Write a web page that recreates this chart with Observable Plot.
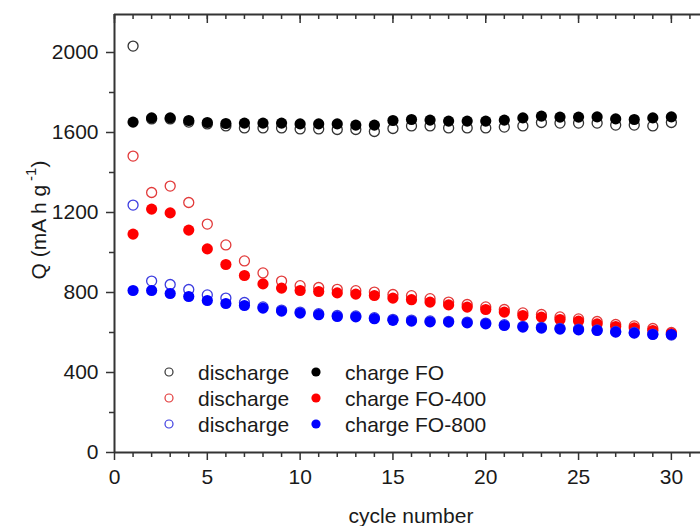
<!DOCTYPE html>
<html>
<head>
<meta charset="utf-8">
<script src="https://cdn.jsdelivr.net/npm/d3@7"></script>
<script src="https://cdn.jsdelivr.net/npm/@observablehq/plot@0.6"></script>
<style>
  html, body { margin: 0; padding: 0; background: #fff; overflow: hidden; }
  #wrap { position: relative; width: 700px; height: 526px; font-family: "Liberation Sans", Arial, sans-serif; }
  #wrap svg.overlay { position: absolute; left: 0; top: 0; pointer-events: none; }
</style>
</head>
<body>
<div id="wrap"></div>
<script>
// ---- data ----
const cycles = d3.range(1, 31);
const foCharge     = [1652,1673,1673,1660,1650,1645,1647,1647,1647,1643,1643,1643,1637,1637,1660,1665,1662,1657,1657,1657,1662,1673,1682,1677,1677,1678,1668,1665,1673,1678];
const foDischarge  = [2032,1668,1668,1652,1643,1633,1623,1623,1623,1618,1618,1615,1615,1605,1620,1633,1633,1623,1623,1623,1627,1633,1650,1647,1647,1647,1637,1637,1633,1650];
const fo400Charge    = [1092,1217,1198,1112,1018,940,885,843,822,810,805,798,792,785,772,764,752,738,727,715,702,685,677,665,657,643,630,623,610,595];
const fo400Discharge = [1482,1300,1332,1250,1142,1038,958,898,857,834,825,816,809,802,790,784,769,752,740,728,715,698,690,678,668,655,640,633,620,600];
const fo800Charge    = [810,810,795,780,760,745,735,722,707,697,689,680,678,669,661,657,653,652,648,643,635,627,622,617,613,610,602,597,590,590];
const fo800Discharge = [1237,857,840,815,788,772,750,728,712,702,694,685,683,674,666,662,658,656,652,647,639,631,626,621,617,613,605,600,592,587];

const seriesNames = ["FO", "FO-400", "FO-800"];
const openColors = ["#333333", "#e23a3a", "#3d3de0"];
const fillColors = ["#000000", "#ff0000", "#0000ff"];
const chargeSets = [foCharge, fo400Charge, fo800Charge];
const dischargeSets = [foDischarge, fo400Discharge, fo800Discharge];

const xMajor = d3.range(0, 31, 5);
const xMinor = d3.range(0, 33, 1);
const yMajor = d3.range(0, 2001, 400);
const yMinor = d3.range(200, 2001, 400);
const xLabel = "cycle number";

// ---- layout ----
const W = 700, H = 526;
const mL = 114, mT = 14, mB = 74, mR = -8;
const plotH = H - mT - mB;
const plotW = W - mL - mR;
const yTop = 2190;
const fmt = d => String(d);

const rows = [];
seriesNames.forEach((s, i) => {
  cycles.forEach((c, j) => {
    rows.push({series: s, idx: i, cycle: c, discharge: dischargeSets[i][j], charge: chargeSets[i][j]});
  });
});

const marks = [];
// frame lines
marks.push(Plot.ruleX([0], {stroke: "#333", strokeWidth: 2}));
marks.push(Plot.ruleY([0], {stroke: "#333", strokeWidth: 2}));
marks.push(Plot.ruleY([yTop], {stroke: "#333", strokeWidth: 2}));
marks.push(Plot.ruleX([32], {stroke: "#333", strokeWidth: 2}));

// bottom axis (outward)
marks.push(Plot.axisX({anchor: "bottom", ticks: xMajor, tickFormat: fmt, tickSize: 8, tickPadding: 9, fontSize: 21, label: null, stroke: "#333", strokeWidth: 1.5, fill: "#1a1a1a"}));
marks.push(Plot.tickX(xMinor.filter(d => d % 5 !== 0), {x: d => d, insetTop: plotH, insetBottom: -5, stroke: "#333", strokeWidth: 1.5}));
// top axis (inward)
marks.push(Plot.tickX(xMinor, {x: d => d, insetBottom: plotH - 5, stroke: "#333", strokeWidth: 1.5}));
marks.push(Plot.tickX(xMajor, {x: d => d, insetBottom: plotH - 9, stroke: "#333", strokeWidth: 1.5}));
// left axis (outward)
marks.push(Plot.axisY({anchor: "left", ticks: yMajor, tickFormat: fmt, tickSize: 8, tickPadding: 8, fontSize: 21, label: null, stroke: "#333", strokeWidth: 1.5, fill: "#1a1a1a"}));
marks.push(Plot.tickY(yMinor, {y: d => d, insetLeft: -5, insetRight: plotW, stroke: "#333", strokeWidth: 1.5}));
// right axis (inward)
marks.push(Plot.tickY(yMajor, {y: d => d, insetLeft: plotW - 8, stroke: "#333", strokeWidth: 1.5}));
marks.push(Plot.tickY(yMinor, {y: d => d, insetLeft: plotW - 5, stroke: "#333", strokeWidth: 1.5}));

// data
seriesNames.forEach((s, i) => {
  const data = rows.filter(r => r.idx === i);
  marks.push(Plot.dot(data, {x: "cycle", y: "discharge", r: 5, stroke: openColors[i], strokeWidth: 1.3, fill: "none"}));
  marks.push(Plot.dot(data, {x: "cycle", y: "charge", r: 5.6, fill: fillColors[i], stroke: "none"}));
});

const chart = Plot.plot({
  width: W, height: H,
  marginLeft: mL, marginRight: mR, marginTop: mT, marginBottom: mB,
  x: {domain: [0, 32], axis: null},
  y: {domain: [0, yTop], axis: null},
  style: {fontFamily: "'Liberation Sans', Arial, sans-serif", fontSize: "21px", color: "#1a1a1a", background: "#fff", overflow: "visible"},
  marks
});
const wrap = document.getElementById("wrap");
wrap.appendChild(chart);

// ---- overlay: axis titles and legend ----
const ov = d3.select(wrap).append("svg").attr("class", "overlay").attr("width", W).attr("height", H)
  .style("font-family", "'Liberation Sans', Arial, sans-serif").style("fill", "#1a1a1a");

ov.append("text").attr("x", mL + (W - mL - mR) / 2).attr("y", 515).attr("text-anchor", "middle")
  .attr("dominant-baseline", "central").attr("font-size", 21).text(xLabel);

const yl = ov.append("text").attr("transform", "translate(38,220) rotate(-90)").attr("text-anchor", "middle")
  .attr("dominant-baseline", "central").attr("font-size", 21);
yl.append("tspan").text("Q (mA h g");
yl.append("tspan").attr("dx", 4).attr("dy", -8).attr("font-size", 15).text("-1");
yl.append("tspan").attr("dy", 8).text(")");

const legY = [372, 398, 424];
seriesNames.forEach((s, i) => {
  ov.append("circle").attr("cx", 169).attr("cy", legY[i]).attr("r", 4).attr("fill", "none")
    .attr("stroke", openColors[i]).attr("stroke-width", 1.2);
  ov.append("text").attr("x", 198).attr("y", legY[i]).attr("dominant-baseline", "central")
    .attr("font-size", 21).text("discharge");
  ov.append("circle").attr("cx", 316).attr("cy", legY[i]).attr("r", 4.6).attr("fill", fillColors[i]);
  ov.append("text").attr("x", 345).attr("y", legY[i]).attr("dominant-baseline", "central")
    .attr("font-size", 21).text("charge " + s);
});
</script>
</body>
</html>
